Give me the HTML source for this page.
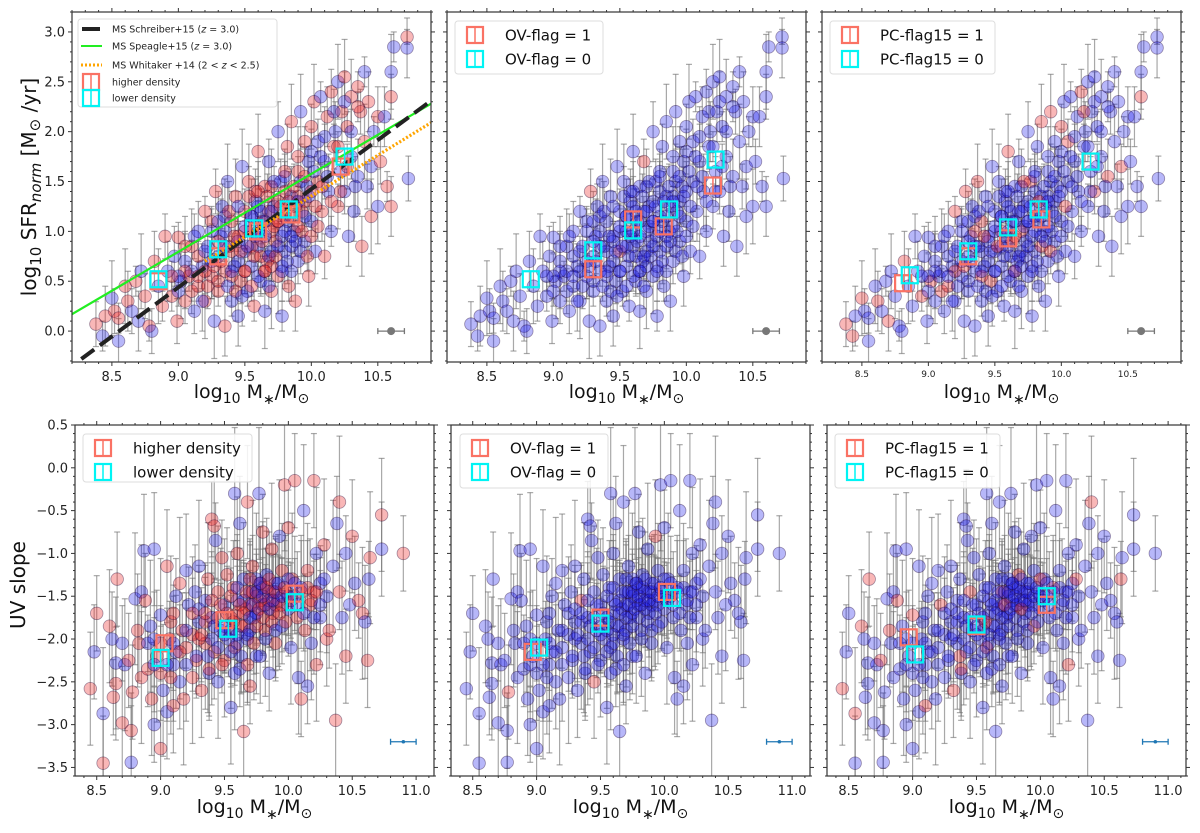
<!DOCTYPE html>
<html><head><meta charset="utf-8"><style>
html,body{margin:0;padding:0;background:#fff;}
svg{display:block;font-family:"DejaVu Sans","Liberation Sans",sans-serif;}
</style></head><body>
<svg id="fig" width="1200" height="833" viewBox="0 0 1200 833" xmlns="http://www.w3.org/2000/svg"></svg>
<script>
// ---------- data: top row (log SFR_norm vs stellar mass) ----------
const topMass = [
8.38,8.43,8.45,8.5,8.52,8.55,8.55,8.6,8.62,8.65,8.68,8.7,8.72,8.75,8.78,8.8,8.82,8.85,8.88,8.9,8.92,8.95,8.97,8.99,
9.0,9.02,9.05,9.05,9.08,9.1,9.12,9.15,9.15,9.18,9.2,9.2,9.22,9.25,9.25,9.27,9.28,9.3,9.3,9.32,9.33,9.35,9.35,9.37,9.38,9.4,9.4,9.42,9.43,9.45,9.45,9.47,9.48,9.5,9.5,
9.52,9.53,9.55,9.55,9.57,9.58,9.6,9.6,9.62,9.63,9.65,9.65,9.67,9.68,9.7,9.7,9.72,9.73,9.75,9.75,9.77,9.78,9.8,9.8,9.82,9.83,9.85,9.85,9.87,9.88,9.9,9.9,9.92,9.93,9.95,9.95,9.97,9.98,10.0,10.0,
10.02,10.03,10.05,10.05,10.07,10.08,10.1,10.1,10.12,10.13,10.15,10.15,10.17,10.18,10.2,10.2,10.22,10.23,10.25,10.25,10.27,10.28,10.3,10.3,10.32,10.35,10.35,10.37,10.38,10.4,10.4,10.42,10.43,10.45,10.45,10.47,10.5,10.5,10.52,10.55,10.57,10.6,10.6,10.6,10.62,10.72,10.72,10.73,
9.3,9.35,9.4,9.45,9.5,9.55,9.6,9.62,9.65,9.68,9.7,9.72,9.75,9.78,9.8,9.82,9.85,9.88,9.9,9.92,9.95,9.98,10.0,9.25,9.2,9.15,9.1,9.05,9.0,8.95,
9.45,9.55,9.65,9.75,9.85,9.5,9.6,9.7,9.8,9.9,9.4,9.35,9.58,9.68,9.78];
const topSFR = [
0.07,-0.05,0.15,0.33,0.2,-0.1,0.13,0.45,0.3,0.2,0.5,0.1,0.6,0.35,0.05,0.0,0.7,0.45,0.25,0.95,0.6,0.35,0.75,0.1,
0.94,0.5,0.3,0.7,0.55,0.85,0.2,0.45,1.0,0.65,0.3,1.2,0.85,0.55,1.1,0.1,1.4,0.75,0.4,0.95,1.25,0.6,0.05,1.5,0.85,0.3,1.1,0.65,1.35,0.95,0.15,0.5,1.65,0.8,1.2,
0.4,1.5,1.0,0.65,0.25,1.3,1.8,0.85,0.5,1.1,1.45,0.2,0.7,1.7,1.0,0.4,1.25,0.9,2.0,0.55,1.5,0.15,1.15,0.8,1.85,0.45,1.35,2.1,1.0,0.3,1.6,0.7,2.2,1.2,0.9,1.9,1.45,0.55,2.05,1.1,
2.3,0.8,1.5,1.9,2.35,1.2,1.7,0.75,2.15,1.4,2.4,1.0,1.85,2.0,2.5,1.25,1.6,2.2,2.55,1.4,2.05,0.95,2.35,1.75,1.2,2.45,1.55,2.2,0.85,2.6,1.9,1.45,2.3,1.15,1.65,2.0,2.15,1.25,1.7,2.15,1.45,2.6,2.35,1.25,2.85,2.95,2.84,1.53,
0.9,1.0,0.8,0.7,1.0,0.85,1.0,0.75,0.95,1.2,0.8,1.05,1.3,0.95,1.4,1.1,0.85,1.25,1.05,1.5,1.3,1.7,1.4,0.7,0.6,0.75,0.6,0.6,0.55,0.55,
0.9,1.15,0.6,1.1,0.95,0.6,1.25,1.45,1.55,1.35,0.55,1.15,1.4,0.75,0.65];
const topErrCode = "3245332543245323452342432534253243524325342532453243524354325342354234523453245324532453423543254325343245345323453245324534253425345324534253421435325324532453245324532453245324534234532453";
const topDensity = "1010101110100110101101011010110100110110101001101010110100101101010011010110101001011010110010101101010010110101001011010100101101011001010101101001010110101011010011010101101010011010101101";
const topOVflag  = "0000000000000000000000000000000000000000100000000000000001000000000000001000000000000000000000000000000000000000000000000000000000000000000000000000000000000000000000000000000000000000000000";
const topPCflag  = "1101000010010000100001000100000100010000100000010010000100000100010000000100000100000010000100000100001000000100000000100000010000000100000001000000100000010000000100000001000000010000000100";
// dense core (top)
const topCoreMass = [9.0,9.05,9.1,9.12,9.15,9.18,9.2,9.22,9.25,9.27,9.3,9.3,9.32,9.35,9.37,9.38,9.4,9.42,9.43,9.45,
9.47,9.48,9.5,9.5,9.52,9.53,9.55,9.55,9.57,9.58,9.6,9.6,9.62,9.63,9.65,9.65,9.67,9.68,9.7,9.7,
9.72,9.73,9.75,9.75,9.77,9.78,9.8,9.8,9.82,9.83,9.85,9.85,9.87,9.88,9.9,9.9,9.92,9.93,9.95,9.95,
9.97,9.98,10.0,10.0,10.02,10.03,10.05,10.07,10.08,10.1,10.12,10.15,10.17,10.2,10.22,10.25,10.27,10.3,10.33,10.35];
const topCoreSFR = [0.4,0.85,0.4,0.95,0.55,0.3,0.8,0.45,1.0,0.65,0.5,1.1,0.7,0.85,0.45,1.2,0.6,0.95,0.4,1.25,
0.8,0.35,1.05,0.6,0.85,1.35,0.45,1.15,0.75,0.95,0.55,1.4,1.2,0.9,0.6,1.1,1.35,0.45,1.2,0.65,
1.5,0.75,1.1,0.85,1.25,0.6,1.0,1.6,0.7,1.3,1.15,0.6,1.45,0.9,1.3,1.75,0.8,1.0,1.55,1.15,
0.75,1.35,1.8,0.95,1.6,1.25,1.05,1.75,1.45,1.95,1.55,1.3,2.2,1.85,1.4,2.3,1.65,2.0,1.45,2.25];
const topCoreErrCode = "24332423342432243342243324233424322433422433242334243224334224332423342432243342";
const topCoreDensity = "01101001011010010110100101101001011010010110100101101001011010010110100101101001";
const topCoreOVflag  = "00000000000000000000000000000000000000000000000000000000000000000000000000000000";
const topCorePCflag  = "00100000010000000100000010000000010000001000000001000000100000000100000010000000";
// binned medians per top panel
const topBinRedX  = [[8.85,9.3,9.6,9.85,10.22],[9.3,9.6,9.83,10.2],[8.81,9.3,9.6,9.85,10.22]];
const topBinRedY  = [[0.5,0.75,1.0,1.17,1.65],[0.62,1.12,1.05,1.46],[0.48,0.75,0.93,1.12,1.7]];
const topBinCyanX = [[8.85,9.3,9.57,9.83,10.25],[8.83,9.3,9.6,9.87,10.22],[8.86,9.3,9.6,9.83,10.22]];
const topBinCyanY = [[0.52,0.82,1.03,1.22,1.75],[0.52,0.81,1.01,1.22,1.72],[0.56,0.8,1.04,1.22,1.7]];
const topXTicks = [8.5,9.0,9.5,10.0,10.5];
const topXTickLabels = ["8.5","9.0","9.5","10.0","10.5"];
const topYTicks = [0.0,0.5,1.0,1.5,2.0,2.5,3.0];
const topYTickLabels = ["0.0","0.5","1.0","1.5","2.0","2.5","3.0"];
const schreiberX = [8.27,10.9], schreiberY = [-0.28,2.31];
const speagleX = [8.2,10.9], speagleY = [0.17,2.28];
const whitakerX = [9.2,10.9], whitakerY = [0.7,2.09];

// ---------- data: bottom row (UV slope vs stellar mass) ----------
const botMass = [
8.45,8.48,8.5,8.55,8.55,8.6,8.62,8.63,8.65,8.65,8.66,8.7,8.7,8.72,8.75,8.77,8.77,8.78,8.8,8.82,8.83,8.85,8.85,8.87,8.88,8.9,8.92,8.93,8.95,8.95,8.97,
9.0,9.0,9.0,9.02,9.05,9.05,9.07,9.08,9.1,9.1,9.12,9.12,9.15,9.15,9.17,9.18,9.2,9.2,9.22,9.25,9.25,9.27,9.28,9.3,9.3,9.32,9.35,9.35,9.37,9.38,
9.4,9.4,9.42,9.42,9.43,9.45,9.45,9.47,9.48,9.5,9.5,9.52,9.53,9.55,9.55,9.57,9.58,9.6,9.6,9.62,9.62,9.63,9.65,9.65,9.67,9.68,9.68,9.7,9.7,9.72,9.73,9.75,9.75,9.77,9.78,9.8,9.8,9.82,9.83,9.85,9.85,9.87,9.88,9.9,9.9,9.92,9.93,9.95,9.95,9.97,9.98,
10.0,10.0,10.02,10.03,10.05,10.05,10.07,10.08,10.1,10.1,10.12,10.13,10.15,10.15,10.17,10.18,10.2,10.2,10.22,10.22,10.25,10.25,10.28,10.3,10.3,10.32,10.35,10.37,10.38,10.4,10.4,10.42,10.45,10.45,10.48,10.5,10.52,10.55,10.58,10.6,10.62,10.63,10.64,10.73,10.73,10.9,9.58,8.95,
9.6,9.65,9.7,9.72,9.75,9.78,9.8,9.82,9.85,9.88,9.9,9.55,9.5,9.45,9.4,9.35,9.3,9.6,9.65,9.7,9.95,10.0,9.75,9.2,9.1];
const botUV = [
-2.58,-2.15,-1.7,-2.87,-3.45,-1.85,-2.0,-2.68,-2.28,-2.52,-1.3,-2.05,-2.98,-2.3,-2.25,-3.07,-3.44,-2.62,-1.53,-1.9,-2.05,-1.45,-2.45,-0.97,-1.55,-2.35,-1.85,-2.7,-2.0,-3.0,-2.2,
-1.72,-2.4,-3.28,-2.6,-1.15,-2.85,-2.0,-1.8,-2.3,-2.78,-1.5,-2.15,-1.35,-2.5,-1.9,-2.7,-1.2,-2.1,-1.6,-1.95,-2.45,-1.45,-2.25,-1.15,-1.8,-2.6,-1.55,-2.05,-1.3,-2.4,
-0.6,-1.75,-0.68,-2.15,-0.85,-1.45,-2.5,-1.9,-1.05,-1.6,-2.25,-1.25,-2.0,-1.75,-2.8,-1.4,-2.1,-1.55,-1.0,-0.65,-2.35,-1.85,-1.3,-3.08,-1.65,-2.0,-0.4,-1.45,-2.55,-1.15,-1.75,-1.5,-2.2,-0.3,-1.35,-1.6,-0.75,-1.9,-1.25,-1.45,-2.4,-0.95,-1.7,-1.35,-2.05,-1.55,-0.8,-1.2,-1.85,-0.2,-1.45,
-1.65,-0.7,-2.1,-1.3,-0.15,-1.5,-1.75,-2.45,-1.4,-2.7,-0.5,-1.9,-1.2,-2.55,-1.6,-2.05,-0.15,-1.45,-1.0,-2.3,-1.75,-1.35,-0.9,-1.5,-2.0,-1.9,-1.15,-2.95,-0.65,-1.45,-0.4,-1.75,-2.2,-1.0,-1.6,-0.8,-1.35,-1.55,-1.7,-1.8,-2.25,-1.3,-1.05,-0.55,-0.95,-1.0,-0.3,-0.95,
-1.7,-1.55,-1.6,-1.45,-1.7,-1.55,-1.4,-1.6,-1.55,-1.45,-1.6,-1.9,-1.85,-1.75,-2.0,-1.8,-2.0,-2.05,-1.85,-1.9,-1.6,-1.5,-1.3,-2.3,-2.05];
const botErrCode = "6547565476546754657645765476547654765476546754765467547654765476547654765476547654765476547654765476547654765476546754765476547654765476547654765476547654765476547654765476547654765476547654";
const botDensity = "1010110101101011010110101101001011010110100101101011010010110101101001011010110100101101011010010110101101001011010110100101101011010010110101101001011010110100101101011010010110101";
const botOVflag  = "0000000000000000010000000000000000000000000000000000000001000000000100000000000000000000000000000000000000010000000000000000000000000000000000000000000000000000000000000000000000000";
const botPCflag  = "1001010000100010000100001000000100000000100000000100000010000000001000000000010000000000100000000001000000000100000000001000000000010000000000100000000001000000000000000000000000000";
// dense core (bottom)
const botCoreMass = [9.3,9.32,9.35,9.37,9.4,9.42,9.45,9.47,9.5,9.52,9.55,9.55,9.57,9.6,9.6,9.62,9.63,9.65,9.67,9.68,
9.7,9.7,9.72,9.73,9.75,9.75,9.77,9.78,9.8,9.8,9.82,9.83,9.85,9.85,9.87,9.88,9.9,9.9,9.92,9.93,
9.95,9.97,9.98,10.0,10.02,10.05,10.07,10.1,10.12,10.15,10.18,10.2,10.22,10.25,10.28,9.25,9.2,9.15,9.1,9.05,
9.0,8.95,8.9,9.08,9.28,9.38,9.48,9.58,9.68,9.78];
const botCoreUV = [-1.65,-1.95,-1.7,-2.2,-1.55,-1.85,-2.1,-1.6,-1.95,-1.7,-1.5,-2.15,-1.8,-1.4,-1.95,-1.6,-2.2,-1.7,-1.45,-1.95,
-1.3,-1.75,-1.6,-2.05,-1.45,-1.85,-1.65,-1.35,-1.75,-1.5,-2.0,-1.4,-1.65,-1.3,-1.8,-1.55,-1.45,-1.9,-1.35,-1.7,
-1.5,-1.4,-1.8,-1.3,-1.55,-1.35,-1.6,-1.45,-1.7,-1.4,-1.55,-1.75,-1.45,-1.6,-1.3,-1.7,-1.9,-2.15,-1.7,-2.3,
-2.05,-2.3,-2.05,-2.45,-2.2,-2.35,-2.3,-2.4,-2.3,-2.2];
const botCoreErrCode = "4536453645364536453645364536453645364536453645364536453645364536453645";
const botCoreDensity = "0110100101101001011010010110100101101001011010010110100101101001011010";
const botCoreOVflag  = "0000000000000000000000000000000000000000000000000000000000000000000000";
const botCorePCflag  = "0001000000001000000000100000000010000000000100000000001000000000010000";
const botBinRedX  = [[9.03,9.5,10.05],[8.97,9.5,10.02],[8.97,9.5,10.05]];
const botBinRedY  = [[-2.05,-1.78,-1.47],[-2.15,-1.75,-1.45],[-1.98,-1.85,-1.6]];
const botBinCyanX = [[9.0,9.53,10.05],[9.02,9.5,10.06],[9.02,9.5,10.05]];
const botBinCyanY = [[-2.22,-1.88,-1.57],[-2.1,-1.82,-1.52],[-2.18,-1.83,-1.5]];
const botXTicks = [8.5,9.0,9.5,10.0,10.5,11.0];
const botXTickLabels = ["8.5","9.0","9.5","10.0","10.5","11.0"];
const botYTicks = [-3.5,-3.0,-2.5,-2.0,-1.5,-1.0,-0.5,0.0,0.5];
const botYTickLabels = ["\u22123.5","\u22123.0","\u22122.5","\u22122.0","\u22121.5","\u22121.0","\u22120.5","0.0","0.5"];

// ---------- drawing ----------
const NS = "http://www.w3.org/2000/svg";
const svg = document.getElementById("fig");
function mk(tag, attrs, parent){
  const e = document.createElementNS(NS, tag);
  for (const k in attrs) e.setAttribute(k, attrs[k]);
  (parent||svg).appendChild(e);
  return e;
}
const panels = [
 {row:"top", x0:72,  y0:12, w:359, h:350, xmin:8.2, xmax:10.9, ymin:-0.31, ymax:3.2, fk:0, yLabels:true, tickFont:13, name:"sfr-density-panel",
  legend:{x:78,y:19,w:199,h:88}},
 {row:"top", x0:447, y0:12, w:359, h:350, xmin:8.2, xmax:10.9, ymin:-0.31, ymax:3.2, fk:1, yLabels:false, tickFont:13, name:"sfr-ovflag-panel",
  legend:{x:455,y:21,w:148,h:53}, leg:["OV-flag  = 1","OV-flag  = 0"]},
 {row:"top", x0:822, y0:12, w:359, h:350, xmin:8.2, xmax:10.9, ymin:-0.31, ymax:3.2, fk:2, yLabels:false, tickFont:9, name:"sfr-pcflag-panel",
  legend:{x:830,y:21,w:165,h:53}, leg:["PC-flag15  = 1","PC-flag15  = 0"]},
 {row:"bot", x0:75,  y0:425, w:359, h:351, xmin:8.33, xmax:11.14, ymin:-3.6, ymax:0.5, fk:0, yLabels:true, tickFont:13, name:"uv-density-panel",
  legend:{x:83,y:434,w:169,h:48}, leg:["higher density","lower density"]},
 {row:"bot", x0:451, y0:425, w:359, h:351, xmin:8.33, xmax:11.14, ymin:-3.6, ymax:0.5, fk:1, yLabels:false, tickFont:13, name:"uv-ovflag-panel",
  legend:{x:460,y:434,w:148,h:54}, leg:["OV-flag  = 1","OV-flag  = 0"]},
 {row:"bot", x0:827, y0:425, w:359, h:351, xmin:8.33, xmax:11.14, ymin:-3.6, ymax:0.5, fk:2, yLabels:false, tickFont:13, name:"uv-pcflag-panel",
  legend:{x:835,y:434,w:165,h:54}, leg:["PC-flag15  = 1","PC-flag15  = 0"]}
];
const topSets = [
 {X:topMass,Y:topSFR,E:topErrCode,F:[topDensity,topOVflag,topPCflag]},
 {X:topCoreMass,Y:topCoreSFR,E:topCoreErrCode,F:[topCoreDensity,topCoreOVflag,topCorePCflag]}];
const botSets = [
 {X:botMass,Y:botUV,E:botErrCode,F:[botDensity,botOVflag,botPCflag]},
 {X:botCoreMass,Y:botCoreUV,E:botCoreErrCode,F:[botCoreDensity,botCoreOVflag,botCorePCflag]}];

function drawSquare(g, cx, cy, color){
  mk("rect",{x:cx-8,y:cy-8,width:16,height:16,fill:"none",stroke:color,"stroke-width":2.2},g);
  mk("line",{x1:cx,y1:cy-8,x2:cx,y2:cy+8,stroke:color,"stroke-width":1.5},g);
}

panels.forEach((p, pi) => {
  const g = mk("g",{});
  
  
  const sx = v => p.x0 + (v - p.xmin) / (p.xmax - p.xmin) * p.w;
  const sy = v => p.y0 + (p.ymax - v) / (p.ymax - p.ymin) * p.h;
  const clip = mk("clipPath",{id:"clip"+pi},g);
  mk("rect",{x:p.x0,y:p.y0,width:p.w,height:p.h},clip);
  const plot = mk("g",{"clip-path":"url(#clip"+pi+")"},g);
  
  
  const isTop = p.row === "top";
  const sets = isTop ? topSets : botSets;
  const escale = isTop ? 0.075 : 0.11;
  const eb = mk("g",{stroke:"rgba(110,110,110,0.6)","stroke-width":1.2},plot);
  
  
  const pts = mk("g",{},plot);
  
  
  sets.forEach(S => {
    for (let i=0;i<S.X.length;i++){
      const e = (parseInt(S.E[i%S.E.length])||3)*escale;
      const cx = sx(S.X[i]), y1 = sy(S.Y[i]+e), y2 = sy(S.Y[i]-e);
      mk("line",{x1:cx,y1:y1,x2:cx,y2:y2},eb);
      mk("line",{x1:cx-3,y1:y1,x2:cx+3,y2:y1},eb);
      mk("line",{x1:cx-3,y1:y2,x2:cx+3,y2:y2},eb);
      const red = S.F[p.fk][i] === "1";
      const c = mk("circle",{cx:cx,cy:sy(S.Y[i]),r:6.3,
        fill: red ? "rgba(235,30,30,0.32)" : "rgba(15,15,235,0.3)",
        stroke:"rgba(30,0,50,0.4)","stroke-width":0.8},pts);
      
      
    }
  });
  if (pi === 0){
    const l1 = mk("line",{x1:sx(speagleX[0]),y1:sy(speagleY[0]),x2:sx(speagleX[1]),y2:sy(speagleY[1]),stroke:"#22ee22","stroke-width":2.2},plot);
    
    
    const l2 = mk("line",{x1:sx(schreiberX[0]),y1:sy(schreiberY[0]),x2:sx(schreiberX[1]),y2:sy(schreiberY[1]),stroke:"#222","stroke-width":4,"stroke-dasharray":"16,7"},plot);
    
    
    const l3 = mk("line",{x1:sx(whitakerX[0]),y1:sy(whitakerY[0]),x2:sx(whitakerX[1]),y2:sy(whitakerY[1]),stroke:"#ffa500","stroke-width":3.2,"stroke-dasharray":"2,2"},plot);
    
    
  }
  const RX = isTop ? topBinRedX[pi] : botBinRedX[pi-3], RY = isTop ? topBinRedY[pi] : botBinRedY[pi-3];
  const CX = isTop ? topBinCyanX[pi] : botBinCyanX[pi-3], CY = isTop ? topBinCyanY[pi] : botBinCyanY[pi-3];
  const bins = mk("g",{},plot);
  
  
  RX.forEach((v,i)=>drawSquare(bins, sx(v), sy(RY[i]), "#fa7264"));
  CX.forEach((v,i)=>drawSquare(bins, sx(v), sy(CY[i]), "#00f4f4"));
  const te = mk("g",{},plot);
  
  
  const tx = isTop ? 10.6 : 10.9, ty = isTop ? 0.0 : -3.2, tc = isTop ? "#777" : "#1f77b4";
  mk("line",{x1:sx(tx-0.1),y1:sy(ty),x2:sx(tx+0.1),y2:sy(ty),stroke:tc,"stroke-width":1.3},te);
  mk("line",{x1:sx(tx-0.1),y1:sy(ty)-3,x2:sx(tx-0.1),y2:sy(ty)+3,stroke:tc,"stroke-width":1.3},te);
  mk("line",{x1:sx(tx+0.1),y1:sy(ty)-3,x2:sx(tx+0.1),y2:sy(ty)+3,stroke:tc,"stroke-width":1.3},te);
  mk("circle",{cx:sx(tx),cy:sy(ty),r:isTop?4:1.8,fill:tc},te);
  mk("rect",{x:p.x0,y:p.y0,width:p.w,height:p.h,fill:"none",stroke:"#333","stroke-width":1.2},g);
  const xt = isTop ? topXTicks : botXTicks, xtl = isTop ? topXTickLabels : botXTickLabels;
  const yt = isTop ? topYTicks : botYTicks, ytl = isTop ? topYTickLabels : botYTickLabels;
  const tk = mk("g",{stroke:"#333","stroke-width":1},g);
  for (let v=Math.ceil(p.xmin*10)/10; v<=p.xmax+1e-9; v+=0.1){
    const x = sx(v), major = Math.abs(v*2-Math.round(v*2))<1e-6, L = major?4:2;
    mk("line",{x1:x,y1:p.y0+p.h,x2:x,y2:p.y0+p.h+L},tk);
    mk("line",{x1:x,y1:p.y0,x2:x,y2:p.y0-L},tk);
  }
  for (let v=Math.ceil(p.ymin*10)/10; v<=p.ymax+1e-9; v+=0.1){
    const y = sy(v), major = Math.abs(v*2-Math.round(v*2))<1e-6, L = major?4:2;
    mk("line",{x1:p.x0,y1:y,x2:p.x0-L,y2:y},tk);
    mk("line",{x1:p.x0+p.w,y1:y,x2:p.x0+p.w+L,y2:y},tk);
  }
  xt.forEach((v,i)=>{
    const t = mk("text",{x:sx(v),y:p.y0+p.h+(p.tickFont>10?19:15),"font-size":p.tickFont,"text-anchor":"middle",fill:"#222"},g);
    t.textContent = xtl[i];
    
    
  });
  if (p.yLabels){
    yt.forEach((v,i)=>{
      const t = mk("text",{x:p.x0-7,y:sy(v)+4.5,"font-size":13,"text-anchor":"end",fill:"#222"},g);
      t.textContent = ytl[i];
      
      
    });
  }
  const xl = mk("text",{x:p.x0+p.w/2,y:p.y0+p.h+(isTop?36:37),"font-size":19,"text-anchor":"middle",fill:"#111"},g);
  xl.innerHTML = 'log<tspan font-size="14" dy="5">10</tspan><tspan dy="-5"> M</tspan><tspan font-size="14" dy="6">\u2217</tspan><tspan dy="-6">/M</tspan><tspan font-size="14" dy="5">\u2299</tspan>';
  
  
  const lg = mk("g",{},g);
  
  
  const L = p.legend;
  mk("rect",{x:L.x,y:L.y,width:L.w,height:L.h,rx:3,fill:"rgba(255,255,255,0.85)",stroke:"#ddd"},lg);
  if (pi === 0){
    const items = ["MS Schreiber+15 (<i>z</i> = 3.0)","MS Speagle+15 (<i>z</i> = 3.0)","MS Whitaker +14 (2 &lt; <i>z</i> &lt; 2.5)","higher density","lower density"];
    const ys = [L.y+10, L.y+27, L.y+46, L.y+63, L.y+79];
    mk("line",{x1:L.x+4,y1:ys[0],x2:L.x+22,y2:ys[0],stroke:"#222","stroke-width":4},lg);
    mk("line",{x1:L.x+3,y1:ys[1],x2:L.x+24,y2:ys[1],stroke:"#22ee22","stroke-width":2},lg);
    mk("line",{x1:L.x+3,y1:ys[2],x2:L.x+24,y2:ys[2],stroke:"#ffa500","stroke-width":3,"stroke-dasharray":"2,2"},lg);
    drawSquare(lg, L.x+13, ys[3], "#fa7264");
    drawSquare(lg, L.x+13, ys[4], "#00f4f4");
    items.forEach((s,i)=>{
      const t = mk("text",{x:L.x+34,y:ys[i]+3.5,"font-size":9.5,fill:"#222"},lg);
      t.innerHTML = s.replace(/<i>(.*?)<\/i>/g,'<tspan font-style="italic">$1</tspan>');
      
      
    });
  } else {
    const ys = [L.y+14, L.y+38];
    drawSquare(lg, L.x+20, ys[0], "#fa7264");
    drawSquare(lg, L.x+20, ys[1], "#00f4f4");
    p.leg.forEach((s,i)=>{
      const t = mk("text",{x:L.x+50,y:ys[i]+5.5,"font-size":15,fill:"#111","xml:space":"preserve"},lg);
      t.textContent = s;
      
      
    });
  }
});
const yt1 = mk("text",{x:0,y:0,"font-size":20,"text-anchor":"middle",fill:"#111",transform:"translate(36,187) rotate(-90)"});
yt1.innerHTML = 'log<tspan font-size="15" dy="5">10</tspan><tspan dy="-5"> SFR</tspan><tspan font-size="15" dy="5" font-style="italic">norm</tspan><tspan dy="-5"> [M</tspan><tspan font-size="15" dy="4">\u2299</tspan><tspan dy="-4"> /yr]</tspan>';


const yt2 = mk("text",{x:0,y:0,"font-size":20,"text-anchor":"middle",fill:"#111",transform:"translate(25,585) rotate(-90)"});
yt2.textContent = "UV slope";


</script>
</body></html>
